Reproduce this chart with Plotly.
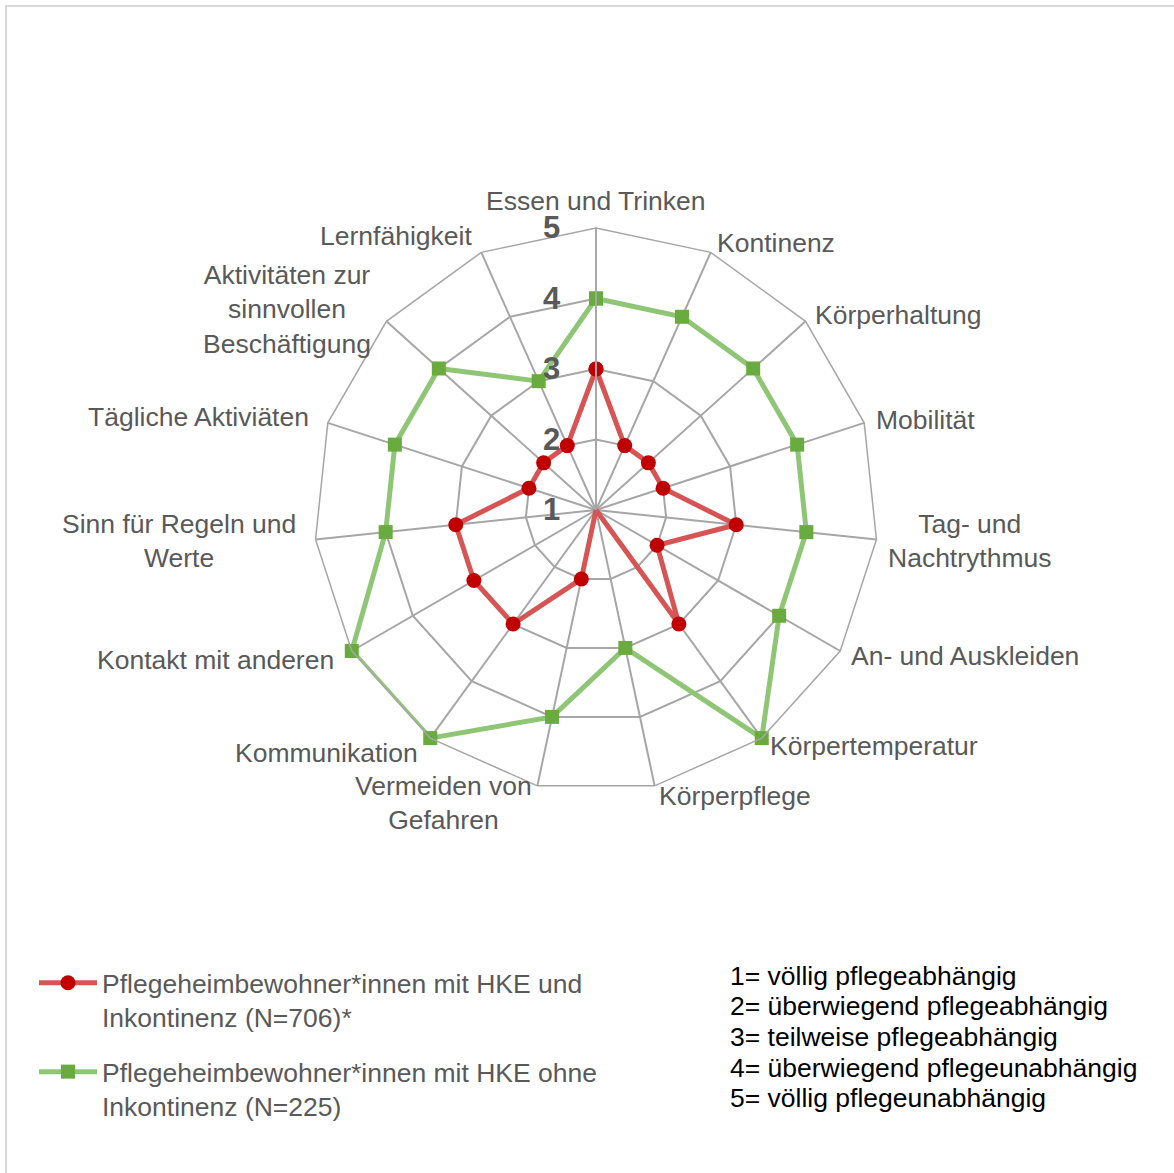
import math
import plotly.graph_objects as go

# Self-care domains, clockwise from the top
categories = [
    "Essen und Trinken",
    "Kontinenz",
    "Körperhaltung",
    "Mobilität",
    "Tag- und<br>Nachtrythmus",
    "An- und Auskleiden",
    "Körpertemperatur",
    "Körperpflege",
    "Vermeiden von<br>Gefahren",
    "Kommunikation",
    "Kontakt mit anderen",
    "Sinn für Regeln und<br>Werte",
    "Tägliche Aktiviäten",
    "Aktivitäten zur<br>sinnvollen<br>Beschäftigung",
    "Lernfähigkeit",
]

# Median scores (1 = fully dependent ... 5 = fully independent)
with_incontinence = [3, 2, 2, 2, 3, 2, 3, 1, 2, 3, 3, 3, 2, 2, 2]
without_incontinence = [4, 4, 4, 4, 4, 4, 5, 3, 4, 5, 5, 4, 4, 4, 3]

series_names = [
    "Pflegeheimbewohner*innen mit HKE und<br>Inkontinenz (N=706)*",
    "Pflegeheimbewohner*innen mit HKE ohne<br>Inkontinenz (N=225)",
]

radial_ticks = [1, 2, 3, 4, 5]

scale_legend = [
    "1= völlig pflegeabhängig",
    "2= überwiegend pflegeabhängig",
    "3= teilweise pflegeabhängig",
    "4= überwiegend pflegeunabhängig",
    "5= völlig pflegeunabhängig",
]

W, H = 1174, 1173
FONT = "Liberation Sans, Arial, sans-serif"
FS = 26.5
GREY_TEXT = "#595959"
GRID = "#a6a6a6"

# polar plot geometry in pixels (centre and outer radius)
cx, cy, R = 596, 510, 282


def closed(values):
    return list(values) + [values[0]]


def px(x):
    return x / W


def py(y):
    return (H - y) / H


fig = go.Figure()

fig.add_trace(go.Scatterpolar(
    r=closed(with_incontinence),
    theta=closed(categories),
    mode="lines+markers",
    name=series_names[0],
    legendgroup="a",
    line=dict(color="#d65454", width=5),
    marker=dict(symbol="circle", size=15, color="#c00000",
                line=dict(width=0)),
))

fig.add_trace(go.Scatterpolar(
    r=closed(without_incontinence),
    theta=closed(categories),
    mode="lines+markers",
    name=series_names[1],
    legendgroup="b",
    line=dict(color="#8fc675", width=5),
    marker=dict(symbol="square", size=14, color="#6aab40",
                line=dict(width=0)),
))

fig.update_layout(
    width=W,
    height=H,
    margin=dict(l=0, r=0, t=0, b=0),
    paper_bgcolor="white",
    plot_bgcolor="white",
    font=dict(family=FONT, size=FS, color=GREY_TEXT),
    polar=dict(
        domain=dict(x=[px(cx - R), px(cx + R)], y=[py(cy + R), py(cy - R)]),
        bgcolor="white",
        gridshape="linear",
        radialaxis=dict(
            range=[1, 5],
            tickvals=radial_ticks,
            angle=90,
            side="counterclockwise",
            tickangle=90,
            ticks="outside",
            ticklen=24,
            tickcolor="rgba(0,0,0,0)",
            tickfont=dict(family=FONT, size=31, color=GREY_TEXT,
                          weight="bold"),
            showline=True,
            linecolor=GRID,
            linewidth=2,
            gridcolor=GRID,
            gridwidth=1.5,
        ),
        angularaxis=dict(
            direction="clockwise",
            rotation=90,
            showticklabels=False,
            ticks="",
            showline=True,
            linecolor=GRID,
            linewidth=1.5,
            gridcolor=GRID,
            gridwidth=1.5,
        ),
    ),
    legend=dict(
        x=px(34),
        y=py(959),
        xanchor="left",
        yanchor="top",
        valign="top",
        tracegroupgap=17,
        itemwidth=58,
        font=dict(family=FONT, size=FS, color=GREY_TEXT),
        bgcolor="rgba(0,0,0,0)",
    ),
    showlegend=True,
)

# Category labels placed just outside each spoke of the outer polygon
n = len(categories)
for i, label in enumerate(categories):
    ang = math.radians(i * 360 / n)
    sx, sy = math.sin(ang), -math.cos(ang)
    if i == 0:
        gap, xa, ya = 10, "center", "bottom"
    elif sx > 0:
        gap, xa, ya = 10, "left", "middle"
    else:
        gap, xa, ya = 18, "right", "middle"
    lx = cx + (R + gap) * sx
    ly = cy + (R + gap) * sy
    fig.add_annotation(
        xref="paper", yref="paper", x=px(lx), y=py(ly),
        xanchor=xa, yanchor=ya, align="center", showarrow=False,
        text=label, font=dict(family=FONT, size=FS, color=GREY_TEXT),
    )

# Scale explanation, one line per level
for k, line in enumerate(scale_legend):
    fig.add_annotation(
        xref="paper", yref="paper",
        x=px(728), y=py(976 + k * 30.5),
        xanchor="left", yanchor="middle",
        align="left", showarrow=False,
        text=line,
        font=dict(family=FONT, size=FS, color="#000000"),
    )

# chart-area frame
fig.add_shape(
    type="rect", xref="paper", yref="paper",
    x0=px(6), x1=1.02, y0=-0.02, y1=py(6),
    line=dict(color="#d9d9d9", width=2),
    fillcolor="rgba(0,0,0,0)",
    layer="below",
)

fig.write_html("out.html")
